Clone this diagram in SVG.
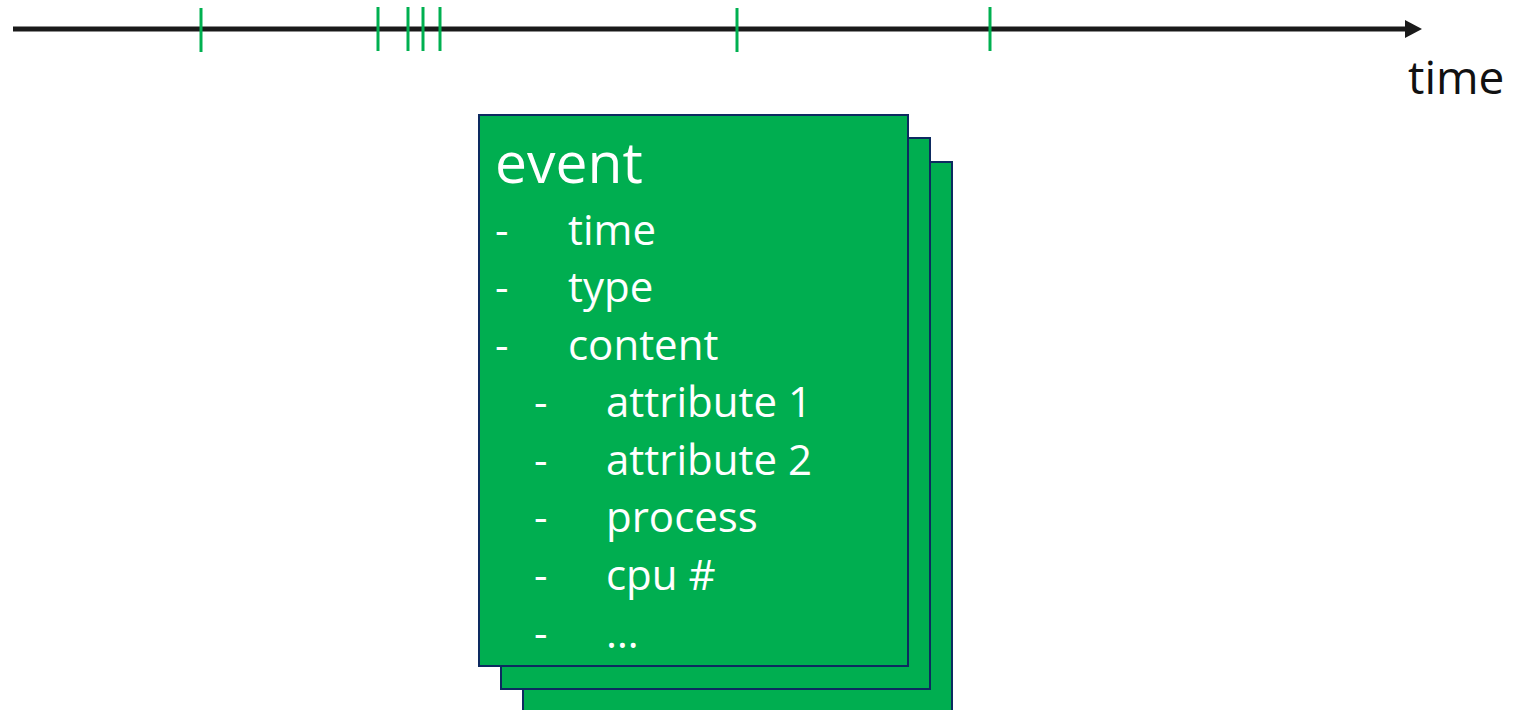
<svg xmlns="http://www.w3.org/2000/svg" width="1514" height="710" viewBox="0 0 1514 710">
<style>
.axis{stroke:#1a1a1a;stroke-width:5;fill:none}
.tick{stroke:#00b050;stroke-width:3}
.card{fill:#00ae50;stroke:#0d2a60;stroke-width:2}
.lbl{font-family:"Open Sans","Noto Sans",sans-serif;fill:#ffffff;font-size:42px}
.title{font-family:"Open Sans","Noto Sans",sans-serif;fill:#ffffff;font-size:57px}
.axl{font-family:"Open Sans","Noto Sans",sans-serif;fill:#111111;font-size:46px}
</style>
<rect width="1514" height="710" fill="#ffffff"/>
<g id="connectors">
<line class="axis" x1="13" y1="29" x2="1407" y2="29"/>
<polygon points="1405,20 1422,29 1405,38" fill="#1a1a1a"/>
</g>
<g id="ticks">
<line class="tick" x1="201" y1="8" x2="201" y2="52"/>
<line class="tick" x1="378" y1="7" x2="378" y2="51"/>
<line class="tick" x1="408" y1="7" x2="408" y2="51"/>
<line class="tick" x1="423" y1="7" x2="423" y2="51"/>
<line class="tick" x1="440" y1="7" x2="440" y2="51"/>
<line class="tick" x1="737" y1="8" x2="737" y2="52"/>
<line class="tick" x1="990" y1="7" x2="990" y2="51"/>
</g>
<g id="axis-label">
<text class="axl" x="1408" y="94">time</text>
</g>
<g id="event-stack">
<rect class="card" x="523" y="162" width="429" height="560"/>
<rect class="card" x="501" y="138" width="429" height="551"/>
<rect class="card" x="479" y="115" width="429" height="551"/>
<text class="title" x="495" y="183">event</text>
<g class="lbl">
<text x="495" y="245">-</text><text x="568" y="245">time</text>
<text x="495" y="302">-</text><text x="568" y="302">type</text>
<text x="495" y="360">-</text><text x="568" y="360">content</text>
<text x="534" y="417">-</text><text x="606" y="417">attribute 1</text>
<text x="534" y="475">-</text><text x="606" y="475">attribute 2</text>
<text x="534" y="532">-</text><text x="606" y="532">process</text>
<text x="534" y="590">-</text><text x="606" y="590">cpu #</text>
<text x="534" y="648">-</text><text x="606" y="648">…</text>
</g>
</g>
</svg>
